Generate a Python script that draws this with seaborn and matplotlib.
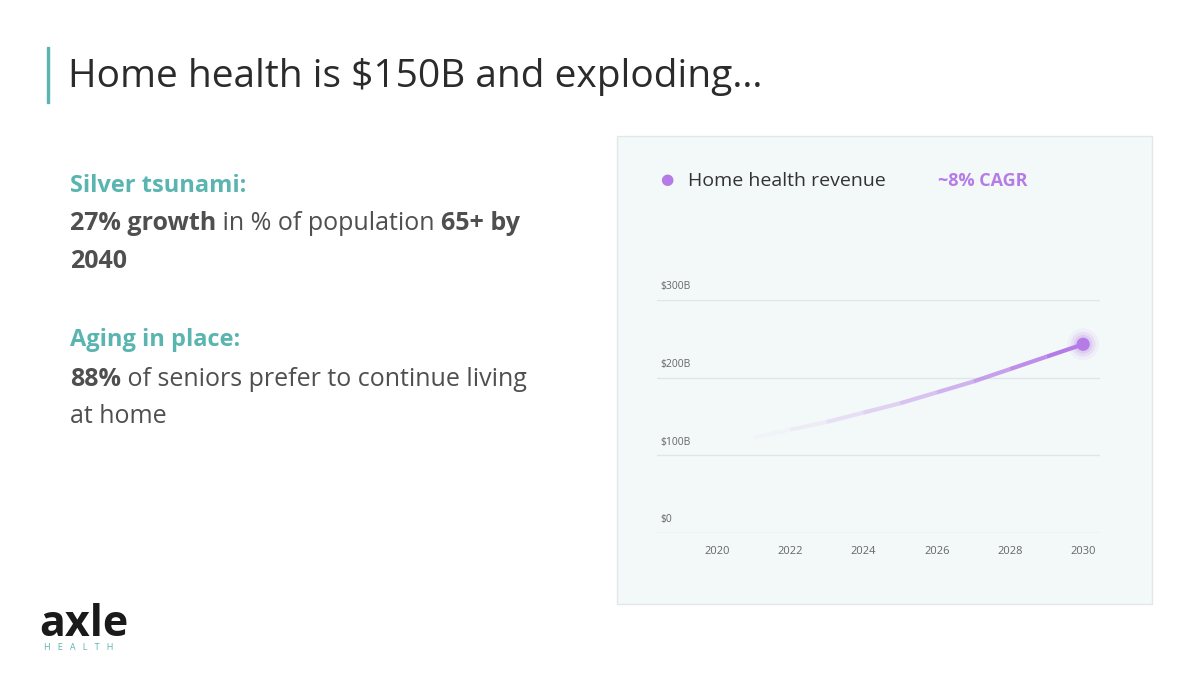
import matplotlib.pyplot as plt
import pandas as pd
import seaborn as sns
from matplotlib.patches import Rectangle

years = [2021, 2022, 2023, 2024, 2025, 2026, 2027, 2028, 2029, 2030]
revenue = [123, 133, 143, 155, 167, 181, 195, 211, 227, 243]
y_ticks = [0, 100, 200, 300]
y_labels = ["$0", "$100B", "$200B", "$300B"]
x_ticks = [2020, 2022, 2024, 2026, 2028, 2030]

TEAL = "#5ab5b1"
DARK = "#4f4f4f"
PURPLE = "#b57be6"

sns.set_theme(style="white")
plt.rcParams["font.family"] = ["Open Sans", "DejaVu Sans"]

fig = plt.figure(figsize=(12, 6.75), dpi=100)
fig.patch.set_facecolor("white")

# heading
fig.add_artist(Rectangle((47 / 1200, 1 - 103 / 675), 2 / 1200, 56 / 675,
                         transform=fig.transFigure, color=TEAL, zorder=-1))
fig.text(68 / 1200, 1 - 77 / 675, "Home health is $150B and exploding…",
         fontsize=28, color="#2b2b2b", va="center")

# chart panel
fig.add_artist(Rectangle((617 / 1200, 1 - 604 / 675), 535 / 1200, 468 / 675,
                         transform=fig.transFigure, facecolor="#f3f9f9",
                         edgecolor="#e2e8e8", lw=1, zorder=-2))


def rich_line(x, y, parts, size=18):
    r = fig.canvas.get_renderer()
    for txt, bold in parts:
        t = fig.text(x, y, txt, fontsize=size, color=DARK, va="center",
                     fontweight="bold" if bold else "normal")
        w = t.get_window_extent(r).width
        x += w / fig.bbox.width


fig.text(70 / 1200, 1 - 186 / 675, "Silver tsunami:", fontsize=17,
         color=TEAL, fontweight="bold", va="center")
rich_line(70 / 1200, 1 - 224 / 675, [("27% growth", True), (" in % of population ", False), ("65+ by", True)])
rich_line(70 / 1200, 1 - 262 / 675, [("2040", True)])
fig.text(70 / 1200, 1 - 340 / 675, "Aging in place:", fontsize=17,
         color=TEAL, fontweight="bold", va="center")
rich_line(70 / 1200, 1 - 379 / 675, [("88%", True), (" of seniors prefer to continue living", False)])
rich_line(70 / 1200, 1 - 416 / 675, [("at home", False)])

# logo
fig.text(39 / 1200, 1 - 624 / 675, "axle", fontsize=31, fontweight="bold",
         color="#1a1a1a", va="center")
fig.text(44 / 1200, 1 - 648 / 675, "H   E   A   L   T   H", fontsize=6.5,
         color=TEAL, va="center")

# legend
fig.text(667 / 1200, 1 - 181 / 675, "●", fontsize=11, color=PURPLE, va="center", ha="center")
fig.text(688 / 1200, 1 - 181 / 675, "Home health revenue", fontsize=14, color="#333333", va="center")
fig.text(938 / 1200, 1 - 181 / 675, "~8% CAGR", fontsize=13, color=PURPLE,
         fontweight="bold", va="center")

ax = fig.add_axes([657 / 1200, 1 - 533 / 675, 443 / 1200, 233 / 675])
ax.set_facecolor("none")
df = pd.DataFrame({"year": years, "revenue": revenue})
n = len(df)
for i in range(n - 1):
    seg = df.iloc[i:i + 2]
    a = 0.04 + 0.96 * (i / (n - 2)) ** 1.3
    sns.lineplot(data=seg, x="year", y="revenue", ax=ax, color=PURPLE,
                 alpha=a, lw=3, solid_capstyle="butt")
last = df.iloc[[-1]]
for s, a in [(520, 0.08), (320, 0.12), (180, 0.2)]:
    sns.scatterplot(data=last, x="year", y="revenue", ax=ax, s=s, color=PURPLE,
                    alpha=a, edgecolor="none", clip_on=False)
sns.scatterplot(data=last, x="year", y="revenue", ax=ax, s=90, color=PURPLE,
                edgecolor="none", clip_on=False, zorder=5)

ax.set_xlim(2018.36, 2030.46)
ax.set_ylim(0, 300)
for v, lab in zip(y_ticks, y_labels):
    ax.axhline(v, color="#d8dfdf" if v == 0 else "#e0e6e6", lw=1, zorder=0)
    ax.text(2018.45, v + 10, lab, fontsize=7.5, color="#666666", va="bottom")
ax.set_yticks([])
ax.set_xticks(x_ticks)
ax.set_xticklabels([str(x) for x in x_ticks], fontsize=8, color="#666666")
ax.tick_params(axis="x", length=0, pad=9)
ax.set_xlabel("")
ax.set_ylabel("")
sns.despine(ax=ax, left=True, bottom=True)

fig.savefig("out.png", dpi=100)
